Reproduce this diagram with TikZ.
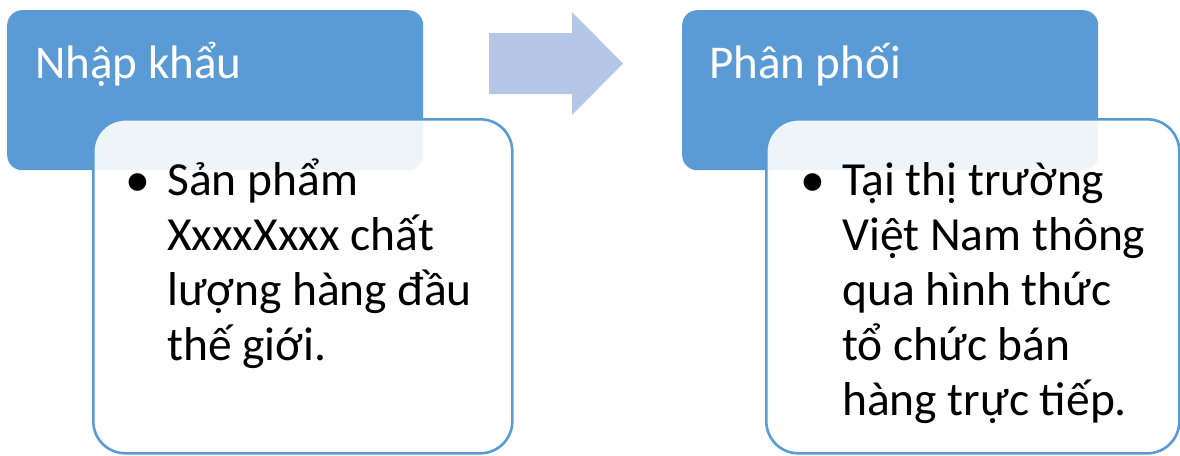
\documentclass[tikz,border=0pt]{standalone}
\usepackage{fontspec}
\setmainfont{Carlito}
\definecolor{hdrblue}{HTML}{5B9BD5}
\definecolor{arrblue}{HTML}{B4C7E7}
\newcommand{\bul}{\llap{\raisebox{-1pt}{\scalebox{1.05}{\textbullet}}\hspace{17pt}}}
\tikzset{
	header/.style = {fill=hdrblue, rounded corners=15pt, anchor=north west, minimum width=416pt, minimum height=160pt, inner sep=0pt},
	card/.style = {draw=hdrblue, line width=2.6pt, fill=white, fill opacity=0.9, rounded corners=32pt, anchor=north west, minimum height=334pt, inner sep=0pt},
	title/.style = {text=white, font=\fontsize{47}{55}\selectfont, anchor=base west, inner sep=0pt},
	body/.style = {text=black, font=\fontsize{47.5}{55}\selectfont, align=left, anchor=base west, inner sep=0pt}
}
\begin{document}
\begin{tikzpicture}[x=1pt, y=-1pt]
	\useasboundingbox (0,0) rectangle (1180,455);
	
	% import stage
	\node[header] (imphdr) at (7,10) {};
	\node[title] (imptitle) at (35,78) {Nhập khẩu};
	\node[card, minimum width=419pt] (impcard) at (92,118) {};
	% base = last line
	\node[body] (imptext) at (167,360) {\bul Sản phẩm\\XxxxXxxx chất\\lượng hàng đầu\\thế giới.};
	
	% block arrow
	\coordinate (arrtail) at (489,63.5);
	\fill[arrblue] (arrtail) ++(0,-30.5) -- ++(83,0) -- ++(0,-21) -- (623,63.5)
		-- (572,115) -- ++(0,-21) -- ++(-83,0) -- cycle;
	
	% distribution stage
	\node[header] (dishdr) at (682,10) {};
	\node[title] (distitle) at (709,78) {Phân phối};
	\node[card, minimum width=413pt] (discard) at (765,118) {};
	\node[body] (distext) at (842,415) {\bul Tại thị trường\\Việt Nam thông\\qua hình thức\\tổ chức bán\\hàng trực tiếp.};
\end{tikzpicture}
\end{document}
